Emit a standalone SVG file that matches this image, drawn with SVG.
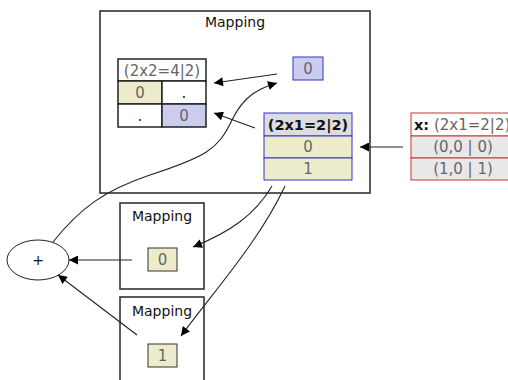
<svg xmlns="http://www.w3.org/2000/svg" width="508" height="380" viewBox="0 0 508 380">
<defs>
<marker id="ah" viewBox="0 0 10 10" refX="10" refY="5" markerWidth="11" markerHeight="9" markerUnits="userSpaceOnUse" orient="auto"><path d="M0,0 L10,5 L0,10 z" fill="#000"/></marker>
</defs>
<style>
text{font-family:"DejaVu Sans","Liberation Sans",sans-serif;font-size:15px;text-anchor:middle}
.box{fill:#fff;stroke:#333;stroke-width:1.6}
.t{font-size:14px;fill:#111}
.g{fill:#666}
.hb{font-weight:bold;font-size:14.5px;fill:#111}
.st{text-anchor:start}
.y{fill:#ececcc}
.b{fill:#ccccee}
.bk{stroke:#222;stroke-width:1.5}
.bl{stroke:#3333cc;stroke-width:1}
.rd{stroke:#cc3333;stroke-width:1;fill:#e8e8e8}
.e{fill:none;stroke:#222;stroke-width:1.1}
</style>
<rect width="508" height="380" fill="#fff"/>
<g id="mapping-main">
<rect class="box" x="100" y="11" width="270" height="182"/>
<text class="t" x="235" y="27">Mapping</text>
</g>
<g id="table-2x2">
<rect x="118" y="59" width="88" height="22" fill="#fff" class="bk"/>
<text class="g" x="162" y="76">(2x2=4|2)</text>
<rect x="118" y="81" width="44" height="23" class="y bk"/>
<rect x="162" y="81" width="44" height="23" fill="#fff" class="bk"/>
<rect x="118" y="104" width="44" height="23" fill="#fff" class="bk"/>
<rect x="162" y="104" width="44" height="23" class="b bk"/>
<text class="g" x="140" y="98">0</text>
<text x="184" y="98" fill="#222">.</text>
<text x="140" y="121" fill="#222">.</text>
<text class="g" x="184" y="121">0</text>
</g>
<g id="cell-top">
<rect x="293" y="57" width="30" height="23" class="b bl"/>
<text class="g" x="308" y="74">0</text>
</g>
<g id="table-2x1">
<rect x="264" y="113" width="88" height="23" fill="#dddddd" class="bl"/>
<text class="hb" x="308" y="130">(2x1=2|2)</text>
<rect x="264" y="136" width="88" height="22" class="y bl"/>
<rect x="264" y="158" width="88" height="22" class="y bl"/>
<text class="g" x="308" y="152">0</text>
<text class="g" x="308" y="174">1</text>
</g>
<g id="table-x">
<rect x="411" y="113" width="104" height="23" fill="#fff" stroke="#cc3333"/>
<text class="g st" x="414" y="130"><tspan class="hb">x:</tspan> (2x1=2|2)</text>
<rect x="411" y="136" width="104" height="22" class="rd"/>
<rect x="411" y="158" width="104" height="22" class="rd"/>
<text class="g" x="463" y="152">(0,0 | 0)</text>
<text class="g" x="463" y="174">(1,0 | 1)</text>
</g>
<g id="plus">
<ellipse cx="38" cy="260" rx="31" ry="20" fill="#fff" stroke="#222" stroke-width="1"/>
<text class="t" x="38" y="265">+</text>
</g>
<g id="mapping-0">
<rect class="box" x="120" y="203" width="84" height="86"/>
<text class="t" x="162" y="221">Mapping</text>
<rect x="148" y="248" width="29" height="23" fill="#ececcc" stroke="#333" stroke-width="1"/>
<text class="g" x="162.5" y="265">0</text>
</g>
<g id="mapping-1">
<rect class="box" x="120" y="297" width="84" height="90"/>
<text class="t" x="162" y="316">Mapping</text>
<rect x="148" y="344" width="29" height="23" fill="#ececcc" stroke="#333" stroke-width="1"/>
<text class="g" x="162.5" y="361">1</text>
</g>
<g id="connectors">
<path class="e" d="M403,147 L360,147" marker-end="url(#ah)"/>
<path class="e" d="M277,74 L214,83" marker-end="url(#ah)"/>
<path class="e" d="M255,128 L214,113" marker-end="url(#ah)"/>
<path class="e" d="M53,242 C80,208 105,190 150,175 C205,157 218,150 232,120 C244,95 260,88 277,83" marker-end="url(#ah)"/>
<path class="e" d="M272,186 C255,215 230,232 193,247" marker-end="url(#ah)"/>
<path class="e" d="M285,186 C260,240 215,290 181,336" marker-end="url(#ah)"/>
<path class="e" d="M132,260 L69,260" marker-end="url(#ah)"/>
<path class="e" d="M137,335 L58,275" marker-end="url(#ah)"/>
</g>
</svg>
